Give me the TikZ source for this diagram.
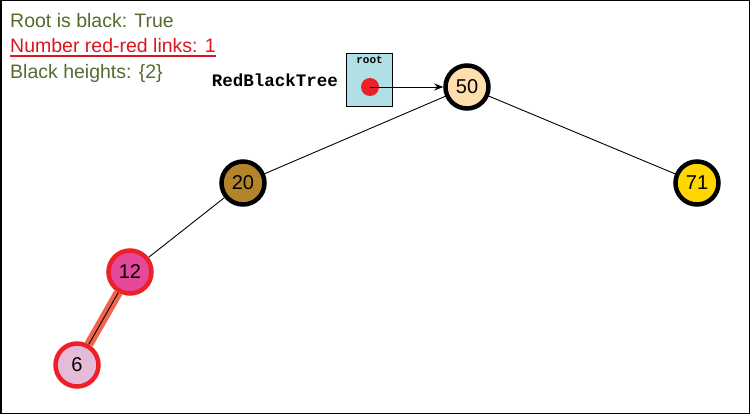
\documentclass[tikz,border=0pt]{standalone}
\usepackage{fontspec}
\setmainfont{Liberation Sans}
\newfontfamily\codefont{Liberation Mono}
\usetikzlibrary{arrows.meta, positioning}
\definecolor{infoGreen}{RGB}{85, 107, 47}
\definecolor{infoRed}{RGB}{218, 22, 32}
\definecolor{rbRed}{RGB}{236, 32, 38}
\definecolor{rbLink}{RGB}{240, 100, 76}
\definecolor{boxBlue}{RGB}{176, 224, 230}
\definecolor{fillFifty}{RGB}{254, 222, 172}
\definecolor{fillTwenty}{RGB}{180, 132, 42}
\definecolor{fillSeventyOne}{RGB}{255, 214, 0}
\definecolor{fillTwelve}{RGB}{228, 72, 152}
\definecolor{fillSix}{RGB}{232, 186, 218}
\tikzset{
    infoText/.style={anchor=base west, inner sep=0pt, font=\fontsize{19.5}{22}\selectfont},
    rbNode/.style={circle, minimum size=43pt, inner sep=0pt, line width=4.5pt,
        font=\fontsize{20}{22}\selectfont},
    blackNode/.style={rbNode, draw=black},
    redNode/.style={rbNode, draw=rbRed},
    treeEdge/.style={line width=0.9pt, black},
    redLink/.style={line width=9pt, rbLink},
}

\begin{document}
\begin{tikzpicture}[x=1pt, y=-1pt]

    % Frame
    \useasboundingbox (0,0) rectangle (750,414);
    \draw[line width=1.5pt] (0.75,0.75) rectangle (749.25,413.25);

    % Checks
    \node[infoText, text=infoGreen] (rootBlack) at (10,28) {Root is black: True};
    \node[infoText, text=infoRed] (redLinks) at (10,53) {Number red-red links: 1};
    \draw[infoRed, line width=1.3pt] ([yshift=-3pt]redLinks.base west) -- ([yshift=-3pt]redLinks.base east);
    \node[infoText, text=infoGreen] (blackHeights) at (10,79) {Black heights: \{2\}};

    % Tree object
    \node[draw, line width=1pt, fill=boxBlue, minimum width=46pt, minimum height=53pt, inner sep=0pt] (rootBox) at (369.5,80.5) {};
    \node[font=\codefont\bfseries\fontsize{11}{12}\selectfont, anchor=north, inner sep=0pt] (rootLabel) at ([yshift=-2pt]rootBox.north) {root};
    \node[circle, fill=rbRed, minimum size=18pt, inner sep=0pt] (rootDot) at (370,87) {};
    \node[font=\codefont\bfseries\fontsize{17.5}{20}\selectfont, anchor=east, inner sep=0pt] (treeName) at (338,80) {RedBlackTree};

    % Nodes
    \node[blackNode, fill=fillFifty] (n50) at (467,87) {50};
    \node[blackNode, fill=fillTwenty] (n20) at (243,183) {20};
    \node[blackNode, fill=fillSeventyOne] (n71) at (697,183) {71};
    \node[redNode, fill=fillTwelve] (n12) at (130,272) {12};
    \node[redNode, fill=fillSix] (n6) at (77,365) {6};

    % Links
    \draw[-{Stealth[length=9pt, width=7pt]}, line width=0.9pt] (rootDot.center) -- (n50);
    \draw[treeEdge] (n50) -- (n20);
    \draw[treeEdge] (n50) -- (n71);
    \draw[treeEdge] (n20) -- (n12);
    \draw[redLink] (n12) -- (n6);
    \draw[treeEdge] (n12) -- (n6);

\end{tikzpicture}
\end{document}
